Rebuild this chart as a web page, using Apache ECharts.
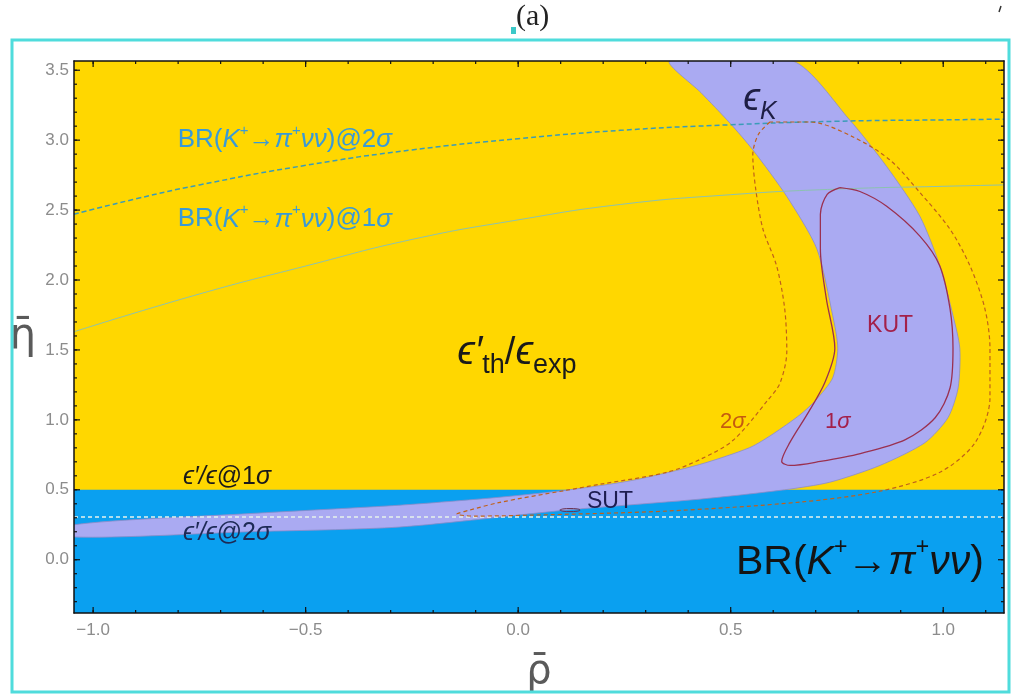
<!DOCTYPE html>
<html><head><meta charset="utf-8">
<script src="https://cdn.jsdelivr.net/npm/echarts@6/dist/echarts.min.js"></script>
<style>html,body{margin:0;padding:0;background:#fff}#c{width:1017px;height:698px}</style>
</head><body><div id="c"></div><script>
// ---- axis ranges & ticks ----
const xMin = -1.045, xMax = 1.143;
const yMin = -0.381, yMax = 3.566;
const xMajorTicks = [-1.0, -0.5, 0.0, 0.5, 1.0];
const xMinorTicks = [-1.0,-0.9,-0.8,-0.7,-0.6,-0.5,-0.4,-0.3,-0.2,-0.1,0.0,0.1,0.2,0.3,0.4,0.5,0.6,0.7,0.8,0.9,1.0,1.1];
const yMajorTicks = [0.0, 0.5, 1.0, 1.5, 2.0, 2.5, 3.0, 3.5];
const yMinorTicks = [-0.3,-0.2,-0.1,0.0,0.1,0.2,0.3,0.4,0.5,0.6,0.7,0.8,0.9,1.0,1.1,1.2,1.3,1.4,1.5,1.6,1.7,1.8,1.9,2.0,2.1,2.2,2.3,2.4,2.5,2.6,2.7,2.8,2.9,3.0,3.1,3.2,3.3,3.4,3.5];

// ---- BR(K+ -> pi+ nu nu) excluded region (below) ----
const brBandTop = 0.5;

// ---- epsilon_K band: outer (upper/left) and inner (lower/right) edges ----
const epsKOuterX = [0.357,0.43,0.498,0.552,0.632,0.703,0.740,0.752,0.740,0.700,0.663,0.600,0.545,0.427,0.270,0.114,-0.050,-0.278,-0.631,-1.045];
const epsKOuterY = [3.566,3.34,3.123,2.931,2.598,2.221,1.746,1.512,1.30,1.14,1.036,0.90,0.802,0.681,0.568,0.497,0.445,0.390,0.330,0.250];
const epsKInnerX = [0.646,0.780,0.867,0.945,0.992,1.023,1.039,1.035,1.011,0.957,0.851,0.733,0.627,0.427,0.114,-0.278,-0.631,-1.045];
const epsKInnerY = [3.566,3.144,2.811,2.456,2.101,1.746,1.512,1.228,1.015,0.837,0.674,0.554,0.500,0.433,0.355,0.234,0.200,0.163];

// ---- KUT 2 sigma contour (dashed) ----
const kut2X = [0.592,0.565,0.552,0.559,0.576,0.608,0.627,0.632,0.616,0.586,0.505,0.428,0.350,0.192,0.114,-0.043,-0.114,-0.144,-0.102,0.035,0.350,0.663,0.851,0.992,1.075,1.110,1.110,1.098,1.063,1.016,0.945,0.874,0.788,0.687,0.592];
const kut2Y = [3.130,3.040,2.896,2.647,2.363,2.101,1.796,1.490,1.263,1.136,0.852,0.717,0.625,0.539,0.497,0.410,0.355,0.326,0.312,0.319,0.348,0.412,0.490,0.625,0.837,1.157,1.512,1.796,2.101,2.363,2.626,2.860,3.023,3.130,3.130];

// ---- KUT 1 sigma contour (solid) ----
const kut1X = [0.757,0.804,0.867,0.945,0.992,1.016,1.023,1.016,0.981,0.911,0.805,0.711,0.640,0.620,0.639,0.682,0.721,0.745,0.725,0.711,0.711,0.727,0.757];
const kut1Y = [2.661,2.633,2.527,2.314,2.101,1.796,1.512,1.228,1.015,0.859,0.759,0.703,0.674,0.703,0.837,1.050,1.263,1.512,1.867,2.221,2.470,2.612,2.661];

// ---- SUT small contour ----
const sutX = [0.098,0.105,0.122,0.139,0.146,0.139,0.122,0.105,0.098];
const sutY = [0.355,0.363,0.366,0.363,0.355,0.347,0.344,0.347,0.355];

// ---- BR(K+ -> pi+ nu nu) bounds ----
const br2X = [-1.045,-0.9,-0.75,-0.5,-0.25,0.0,0.24,0.5,0.75,1.0,1.143];
const br2Y = [2.47,2.58,2.68,2.82,2.93,3.01,3.07,3.11,3.135,3.145,3.15];
const br1X = [-1.045,-0.75,-0.5,-0.25,0.0,0.24,0.5,0.75,1.0,1.143];
const br1Y = [1.63,1.90,2.10,2.29,2.43,2.54,2.61,2.65,2.67,2.68];

// ---- eps'/eps 2 sigma bound ----
const epsP2X = [-1.045, 1.143];
const epsP2Y = [0.305, 0.305];

// ---- text annotations (data anchors) ----
const annX = [0.569, -0.549, -0.549, -0.003, 0.875, 0.505, 0.752, -0.685, -0.685, 0.216, 0.804];
const annY = [3.29, 3.00, 2.434, 1.476, 1.675, 0.987, 0.987, 0.589, 0.192, 0.412, -0.02];
const annText = [
  '{e|ϵ}{s|K}',
  '{n|BR(}{i|K}{p|+}{n|→}{i|π}{p|+}{i|νν}{n|)@2}{i|σ}',
  '{n|BR(}{i|K}{p|+}{n|→}{i|π}{p|+}{i|νν}{n|)@1}{i|σ}',
  '{e|ϵ′}{u|th}{n|/}{e|ϵ}{u|exp}',
  '{n|KUT}',
  '{n|2}{i|σ}',
  '{n|1}{i|σ}',
  '{i|ϵ′/ϵ}{n|@1}{i|σ}',
  '{i|ϵ′/ϵ}{n|@2}{i|σ}',
  '{n|SUT}',
  '{n|BR(}{i|K}{p|+}{n|→}{i|π}{p|+}{i|νν}{n|)}'
];

const FONT = "'Liberation Sans', Arial, sans-serif";
function richFor(size, color, subSize, supSize, eSize) {
  const es = eSize || size;
  return {
    n: {fontSize: size, fontFamily: FONT, fill: color, lineHeight: size * 1.3, verticalAlign: 'middle'},
    i: {fontSize: size, fontFamily: FONT, fontStyle: 'italic', fill: color, lineHeight: size * 1.3, verticalAlign: 'middle'},
    e: {fontSize: es, fontFamily: FONT, fontStyle: 'italic', fill: color, lineHeight: es * 1.3, verticalAlign: 'middle'},
    s: {fontSize: subSize, fontFamily: FONT, fontStyle: 'italic', fill: color, lineHeight: subSize, verticalAlign: 'bottom'},
    u: {fontSize: subSize, fontFamily: FONT, fill: color, lineHeight: subSize, verticalAlign: 'bottom'},
    p: {fontSize: supSize, fontFamily: FONT, fill: color, lineHeight: supSize, verticalAlign: 'top'}
  };
}
const annRich = [
  richFor(34, '#1e1e44', 25, 14, 38),
  richFor(26, '#3a9ad6', 15, 15),
  richFor(26, '#3a9ad6', 15, 15),
  richFor(38, '#1a1a1a', 27, 14, 40),
  richFor(23, '#a3204a', 14, 14),
  richFor(22, '#c55a10', 14, 14),
  richFor(22, '#a3204a', 14, 14),
  richFor(25, '#1a1a1a', 14, 14),
  richFor(25, '#1d2a55', 14, 14),
  richFor(23, '#1d1d50', 14, 14),
  richFor(41, '#141414', 25, 23)
];

function pairs(xs, ys) { return xs.map((x, i) => [x, ys[i]]); }

const epsKPolyX = epsKOuterX.concat(epsKInnerX.slice().reverse());
const epsKPolyY = epsKOuterY.concat(epsKInnerY.slice().reverse());

const chart = echarts.init(document.getElementById('c'), null, {renderer: 'canvas'});

const tickLabelFmt = v => v.toFixed(1).replace('-', '−');
function xAx(pos, withLabel) {
  return {
    type: 'value', position: pos, min: xMin, max: xMax, z: 30,
    axisLine: {show: true, onZero: false, lineStyle: {color: '#111', width: 1.5}},
    axisTick: {show: false},
    axisLabel: withLabel ? {show: true, customValues: xMajorTicks, formatter: tickLabelFmt, color: '#8c8c8c', fontSize: 17, fontFamily: FONT, margin: 9} : {show: false},
    splitLine: {show: false},
    name: withLabel ? 'ρ̄' : '', nameLocation: 'middle', nameGap: 40,
    nameTextStyle: {fontSize: 40, color: '#5a5a5a', fontFamily: "'DejaVu Sans', sans-serif"}
  };
}
function yAx(pos, withLabel) {
  return {
    type: 'value', position: pos, min: yMin, max: yMax, z: 30,
    axisLine: {show: true, onZero: false, lineStyle: {color: '#111', width: 1.5}},
    axisTick: {show: false},
    axisLabel: withLabel ? {show: true, customValues: yMajorTicks, formatter: tickLabelFmt, color: '#8c8c8c', fontSize: 17, fontFamily: FONT, margin: 5} : {show: false},
    splitLine: {show: false},
    name: withLabel ? 'η̄' : '', nameLocation: 'middle', nameGap: 38, nameRotate: 0,
    nameTextStyle: {fontSize: 42, color: '#5a5a5a', fontFamily: "'DejaVu Sans', sans-serif", padding: [24, 0, 0, 0]}
  };
}

function polySeries(xs, ys, fill, stroke, z) {
  return {
    type: 'custom', xAxisIndex: 0, yAxisIndex: 0, clip: true, silent: true, z: z,
    data: [[xs[0], ys[0]]],
    renderItem: (params, api) => {
      const pts = xs.map((x, i) => api.coord([x, ys[i]]));
      return {type: 'polygon', shape: {points: pts, smooth: 0.25}, style: {fill: fill, stroke: stroke, lineWidth: 0.8}};
    }
  };
}
function lineSeries(xs, ys, color, width, dash, smooth, z) {
  return {
    type: 'line', xAxisIndex: 0, yAxisIndex: 0, data: pairs(xs, ys), showSymbol: false, symbol: 'none',
    smooth: smooth, silent: true, z: z, clip: true,
    lineStyle: {color: color, width: width, type: dash}
  };
}

// frame ticks (inside, on all four sides), placed through the axes' scales
const tickSeries = {
  type: 'custom', xAxisIndex: 0, yAxisIndex: 0, silent: true, z: 20,
  data: [[xMin, yMin]],
  renderItem: (params, api) => {
    const ch = [];
    const add = (x1, y1, x2, y2) => ch.push({type: 'line', shape: {x1, y1, x2, y2}, style: {stroke: '#111', lineWidth: 1.2}});
    const xt = (vals, len) => vals.forEach(v => {
      const b = api.coord([v, yMin]), t = api.coord([v, yMax]);
      add(b[0], b[1], b[0], b[1] - len); add(t[0], t[1], t[0], t[1] + len);
    });
    const yt = (vals, len) => vals.forEach(v => {
      const l = api.coord([xMin, v]), r = api.coord([xMax, v]);
      add(l[0], l[1], l[0] + len, l[1]); add(r[0], r[1], r[0] - len, r[1]);
    });
    xt(xMinorTicks, 3); xt(xMajorTicks, 6);
    yt(yMinorTicks, 3); yt(yMajorTicks, 6);
    return {type: 'group', children: ch};
  }
};

const option = {
  animation: false,
  grid: {left: 74, right: 13, top: 61, bottom: 81, show: true, backgroundColor: '#FFD700', borderWidth: 0},
  xAxis: [xAx('bottom', true), xAx('top', false)],
  yAxis: [yAx('left', true), yAx('right', false)],
  graphic: [
    {type: 'rect', shape: {x: 12, y: 40, width: 997, height: 652}, style: {fill: 'none', stroke: '#4fdcdc', lineWidth: 3}, z: 100},
    {type: 'text', left: 516, top: 2, style: {text: '(a)', font: "30px 'Liberation Serif', serif", fill: '#222'}},
    {type: 'rect', shape: {x: 511, y: 27, width: 5, height: 7}, style: {fill: '#3cc8c8'}},
    {type: 'line', shape: {x1: 1001, y1: 6, x2: 999, y2: 12}, style: {stroke: '#333', lineWidth: 1.5}}
  ],
  series: [
    {
      type: 'custom', xAxisIndex: 0, yAxisIndex: 0, clip: true, silent: true, z: 1,
      data: [[xMin, brBandTop]],
      renderItem: (params, api) => {
        const a = api.coord([xMin, brBandTop]);
        const b = api.coord([xMax, yMin]);
        return {type: 'rect', shape: {x: a[0], y: a[1], width: b[0] - a[0], height: b[1] - a[1]}, style: {fill: '#0AA0F0'}};
      }
    },
    polySeries(epsKPolyX, epsKPolyY, '#AAAAF2', '#8c8cc8', 2),
    lineSeries(epsP2X, epsP2Y, '#e6f2ec', 1.5, [4, 3], false, 3),
    lineSeries(br1X, br1Y, '#8cc2b0', 1, 'solid', true, 3),
    lineSeries(br2X, br2Y, '#3a9cb8', 1.5, [5, 3], true, 3),
    lineSeries(kut2X, kut2Y, '#c0601a', 1.2, [4, 3], 0.3, 4),
    lineSeries(kut1X, kut1Y, '#9a3050', 1.3, 'solid', 0.3, 4),
    lineSeries(sutX, sutY, '#6a3050', 1, 'solid', 0.4, 4),
    {
      type: 'custom', xAxisIndex: 0, yAxisIndex: 0, silent: true, z: 10,
      data: annX.map((x, i) => [x, annY[i], i]),
      renderItem: (params, api) => {
        const i = api.value(2);
        const p = api.coord([api.value(0), api.value(1)]);
        return {type: 'text', x: p[0], y: p[1], style: {text: annText[i], rich: annRich[i], align: 'center', verticalAlign: 'middle'}};
      }
    },
    tickSeries
  ]
};
chart.setOption(option);
</script></body></html>
